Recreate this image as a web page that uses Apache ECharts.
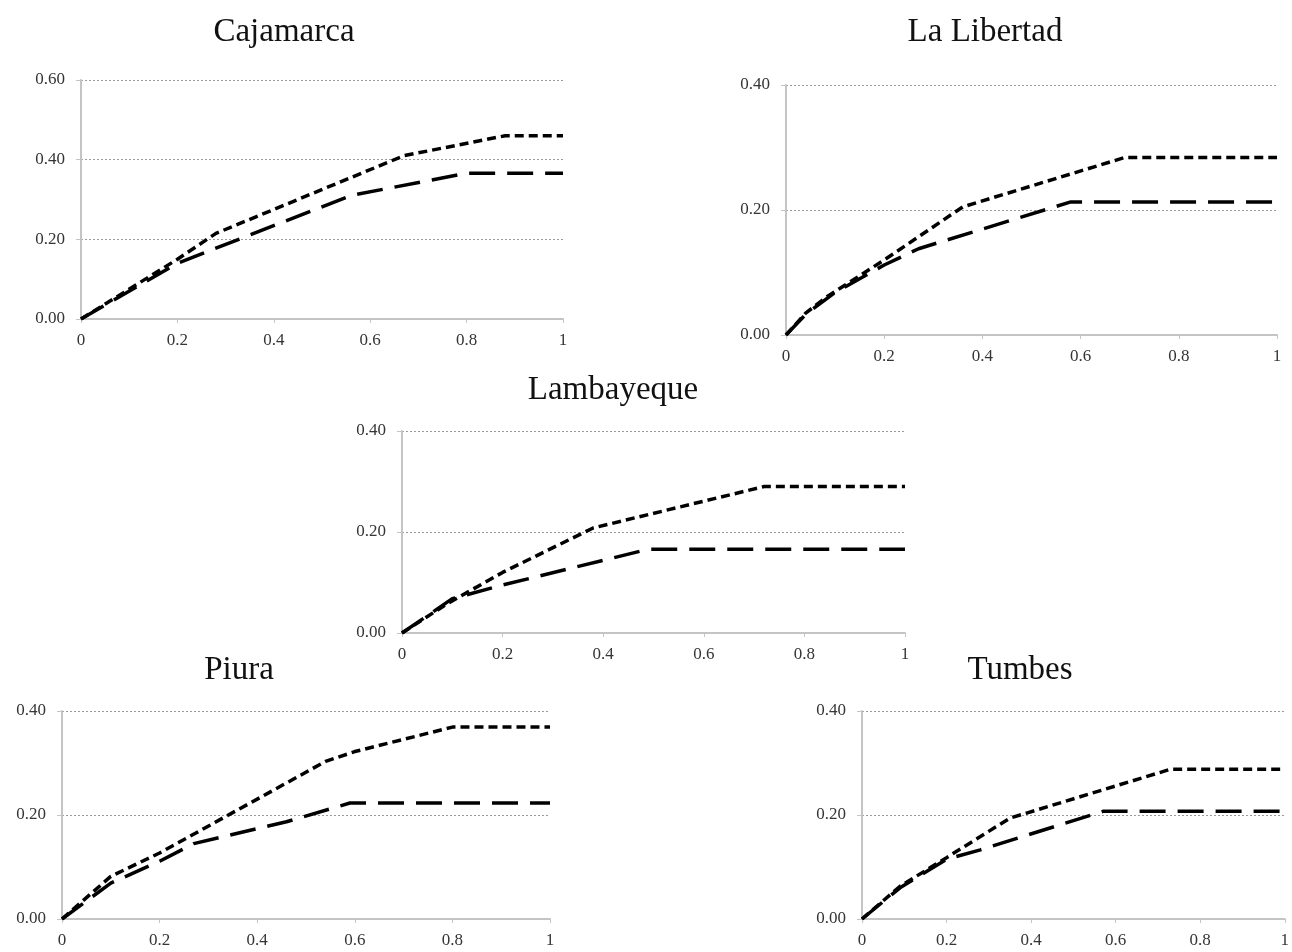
<!DOCTYPE html>
<html>
<head>
<meta charset="utf-8">
<title>Regiones</title>
<script src="https://cdn.jsdelivr.net/npm/echarts@6/dist/echarts.min.js"></script>
<style>
  html, body { margin: 0; padding: 0; background: #fff; }
  #chart { width: 1292px; height: 952px; }
</style>
</head>
<body>
<div id="chart"></div>
<script>
// region names and y-axis maximum of each panel
const regions = ['Cajamarca', 'La Libertad', 'Lambayeque', 'Piura', 'Tumbes'];
const yMax = [0.6, 0.4, 0.4, 0.4, 0.4];

// short-dash curve (upper) and long-dash curve (lower), [x, y]
const cajamarcaShort = [[0, 0], [0.2, 0.15], [0.28, 0.215], [0.67, 0.41], [0.88, 0.46], [1, 0.46]];
const cajamarcaLong = [[0, 0], [0.2, 0.14], [0.56, 0.31], [0.8, 0.366], [1, 0.366]];

const libertadShort = [[0, 0], [0.04, 0.035], [0.085, 0.062], [0.2, 0.12], [0.36, 0.205], [0.69, 0.284], [1, 0.284]];
const libertadLong = [[0, 0], [0.04, 0.033], [0.1, 0.068], [0.2, 0.112], [0.27, 0.138], [0.58, 0.213], [1, 0.213]];

const lambayequeShort = [[0, 0], [0.09, 0.058], [0.2, 0.12], [0.38, 0.208], [0.72, 0.29], [1, 0.29]];
const lambayequeLong = [[0, 0], [0.1, 0.068], [0.2, 0.095], [0.49, 0.166], [1, 0.166]];

const piuraShort = [[0, 0], [0.1, 0.082], [0.2, 0.127], [0.54, 0.303], [0.6, 0.322], [0.8, 0.369], [1, 0.369]];
const piuraLong = [[0, 0], [0.1, 0.069], [0.2, 0.111], [0.27, 0.145], [0.46, 0.187], [0.59, 0.223], [1, 0.223]];

const tumbesShort = [[0, 0], [0.09, 0.063], [0.2, 0.118], [0.35, 0.194], [0.73, 0.288], [1, 0.288]];
const tumbesLong = [[0, 0], [0.09, 0.06], [0.2, 0.115], [0.28, 0.133], [0.57, 0.207], [1, 0.207]];

const shortSeries = [cajamarcaShort, libertadShort, lambayequeShort, piuraShort, tumbesShort];
const longSeries = [cajamarcaLong, libertadLong, lambayequeLong, piuraLong, tumbesLong];

// panel boxes in pixels
const boxes = [
  {left: 81, top: 80, width: 482, height: 239},
  {left: 786, top: 85, width: 491, height: 250},
  {left: 402, top: 431, width: 503, height: 202},
  {left: 62, top: 711, width: 488, height: 208},
  {left: 862, top: 711, width: 427, height: 208}
];
const titlePos = [[279, 11], [980, 11], [608, 369], [234, 649], [1015, 649]];

const serif = '"Liberation Serif", "DejaVu Serif", serif';
const axisGray = '#c4c4c4';
const labelColor = '#353535';

let chart = echarts.init(document.getElementById('chart'));

let grid = [], xAxis = [], yAxis = [], title = [], series = [];
regions.forEach((name, i) => {
  grid.push(Object.assign({containLabel: false}, boxes[i]));
  title.push({
    text: name,
    left: titlePos[i][0],
    top: titlePos[i][1],
    textAlign: 'center',
    textStyle: {fontFamily: serif, fontSize: 33, fontWeight: 'normal', color: '#111'}
  });
  xAxis.push({
    type: 'value', gridIndex: i, min: 0, max: 1, interval: 0.2,
    axisLine: {show: true, lineStyle: {color: axisGray, width: 2}},
    axisTick: {show: true, length: 4, lineStyle: {color: axisGray}},
    splitLine: {show: false},
    axisLabel: {
      fontFamily: serif, fontSize: 17, color: labelColor, margin: 13,
      formatter: v => String(Math.round(v * 10) / 10)
    }
  });
  yAxis.push({
    type: 'value', gridIndex: i, min: 0, max: yMax[i], interval: 0.2,
    axisLine: {show: true, lineStyle: {color: axisGray, width: 2}},
    axisTick: {show: true, length: 5, lineStyle: {color: axisGray}},
    splitLine: {show: true, lineStyle: {color: '#9a9a9a', type: [2, 2], width: 1}},
    axisLabel: {
      fontFamily: serif, fontSize: 17, color: labelColor, margin: 16,
      formatter: v => v.toFixed(2)
    }
  });
  series.push({
    type: 'line', xAxisIndex: i, yAxisIndex: i, data: shortSeries[i],
    showSymbol: false, symbol: 'none', z: 3,
    lineStyle: {color: '#000', width: 3.5, type: [9, 5]}
  });
  series.push({
    type: 'line', xAxisIndex: i, yAxisIndex: i, data: longSeries[i],
    showSymbol: false, symbol: 'none', z: 3,
    lineStyle: {color: '#000', width: 3.5, type: [26, 12]}
  });
});

chart.setOption({
  animation: false,
  backgroundColor: '#fff',
  title: title,
  grid: grid,
  xAxis: xAxis,
  yAxis: yAxis,
  series: series
});
</script>
</body>
</html>
